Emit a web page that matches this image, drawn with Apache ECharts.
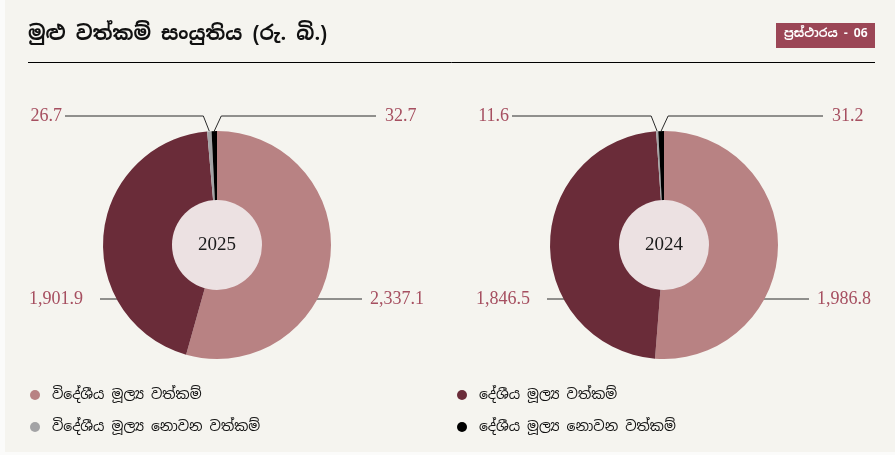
<!DOCTYPE html>
<html>
<head>
<meta charset="utf-8">
<script src="https://cdn.jsdelivr.net/npm/echarts@6/dist/echarts.min.js"></script>
<style>
  html, body { margin: 0; padding: 0; background: #fbfbfa; }
  #main { position: absolute; left: 5px; top: 0; width: 890px; height: 452px; }
</style>
</head>
<body>
<div id="main"></div>
<script>
// data
var years = ['2025', '2024'];
var categories = ['විදේශීය මූල්‍ය වත්කම්', 'දේශීය මූල්‍ය වත්කම්', 'විදේශීය මූල්‍ය නොවන වත්කම්', 'දේශීය මූල්‍ය නොවන වත්කම්'];
var values2025 = [2337.1, 1901.9, 26.7, 32.7];
var values2024 = [1986.8, 1846.5, 11.6, 31.2];
var colors = ['#b88283', '#6a2c39', '#a3a3a5', '#000000'];

var chart = echarts.init(document.getElementById('main'));

// layout (chart coordinates, container is shifted 5px right)
var cxs = [212, 659];
var cy = 245;
var R = 114;
var rIn = 45;

function fmt(v) {
    return v.toLocaleString('en-US', { minimumFractionDigits: 1, maximumFractionDigits: 1 });
}

function makeLayout(cx) {
    return function (p) {
        var i = p.dataIndex;
        var p0 = p.labelLinePoints ? p.labelLinePoints[0] : [cx, cy - R];
        var topY = cy - 129;
        var botY = cy + 54;
        var edge = Math.sqrt(R * R - 54 * 54);
        if (i == 2) { // small left
            return { x: cx - 155, y: topY, align: 'right', verticalAlign: 'middle',
                labelLinePoints: [[p0[0], p0[1]], [p0[0] - 6, topY], [cx - 152, topY]] };
        } else if (i == 3) { // small right
            return { x: cx + 168, y: topY, align: 'left', verticalAlign: 'middle',
                labelLinePoints: [[p0[0], p0[1]], [p0[0] + 7, topY], [cx + 159, topY]] };
        } else if (i == 1) {
            return { x: cx - 134, y: botY, align: 'right', verticalAlign: 'middle',
                labelLinePoints: [[cx - edge + 1, botY], [cx - 108, botY], [cx - 117, botY]] };
        } else {
            return { x: cx + 153, y: botY, align: 'left', verticalAlign: 'middle',
                labelLinePoints: [[cx + edge - 1, botY], [cx + 120, botY], [cx + 145, botY]] };
        }
    };
}

function donut(year, values, cx) {
    return {
        type: 'pie',
        name: year,
        center: [cx, cy],
        radius: [rIn - 1, R],
        startAngle: 90,
        clockwise: true,
        avoidLabelOverlap: false,
        animation: false,
        silent: true,
        data: categories.map(function (c, k) {
            return { name: c, value: values[k], itemStyle: { color: colors[k] } };
        }),
        label: {
            show: true,
            formatter: function (p) { return fmt(p.value); },
            color: '#a64f60',
            fontFamily: 'Liberation Serif',
            fontSize: 18
        },
        labelLine: {
            show: true,
            length: 10,
            length2: 20,
            lineStyle: { color: '#2a2a2a', width: 1 }
        },
        labelLayout: makeLayout(cx)
    };
}

function centerCircle(year, cx) {
    return {
        type: 'pie',
        center: [cx, cy],
        radius: [0, rIn],
        silent: true,
        animation: false,
        data: [{ name: year, value: 1, itemStyle: { color: '#ece1e2' } }],
        label: {
            show: true,
            position: 'center',
            formatter: year,
            color: '#1a1a1a',
            fontFamily: 'Liberation Serif',
            fontSize: 19
        },
        labelLine: { show: false }
    };
}

var legendText = { color: '#111', fontSize: 14, padding: [0, 0, 0, 7], fontFamily: 'Noto Sans Sinhala, Noto Sans, sans-serif' };

var option = {
    backgroundColor: '#f5f4ef',
    color: colors,
    title: {
        text: 'මුළු වත්කම් සංයුතිය (රු. බි.)',
        left: 18,
        top: 19,
        textStyle: { fontSize: 20, fontWeight: 'bold', color: '#111', fontFamily: 'Noto Sans Sinhala, Noto Sans, sans-serif' }
    },
    graphic: [
        {
            type: 'rect',
            left: 771, top: 23,
            shape: { width: 99, height: 25 },
            style: { fill: '#9b4656' }
        },
        {
            type: 'text',
            left: 779, top: 28,
            style: { text: 'ප්‍රස්ථාරය - 06', fill: '#ffffff', font: 'bold 12px "Noto Sans Sinhala", "Liberation Serif", sans-serif' }
        },
        {
            type: 'line',
            shape: { x1: 23, y1: 62.5, x2: 870, y2: 62.5 },
            style: { stroke: '#000', lineWidth: 1 }
        }
    ],
    legend: [
        {
            left: 20, top: 383,
            orient: 'vertical',
            itemGap: 18,
            icon: 'circle',
            itemWidth: 10, itemHeight: 10,
            selectedMode: false,
            data: [categories[0], categories[2]],
            textStyle: legendText
        },
        {
            left: 447, top: 383,
            orient: 'vertical',
            itemGap: 18,
            icon: 'circle',
            itemWidth: 10, itemHeight: 10,
            selectedMode: false,
            data: [categories[1], categories[3]],
            textStyle: legendText
        }
    ],
    series: [
        donut(years[0], values2025, cxs[0]),
        centerCircle(years[0], cxs[0]),
        donut(years[1], values2024, cxs[1]),
        centerCircle(years[1], cxs[1])
    ]
};

chart.setOption(option);
</script>
</body>
</html>
